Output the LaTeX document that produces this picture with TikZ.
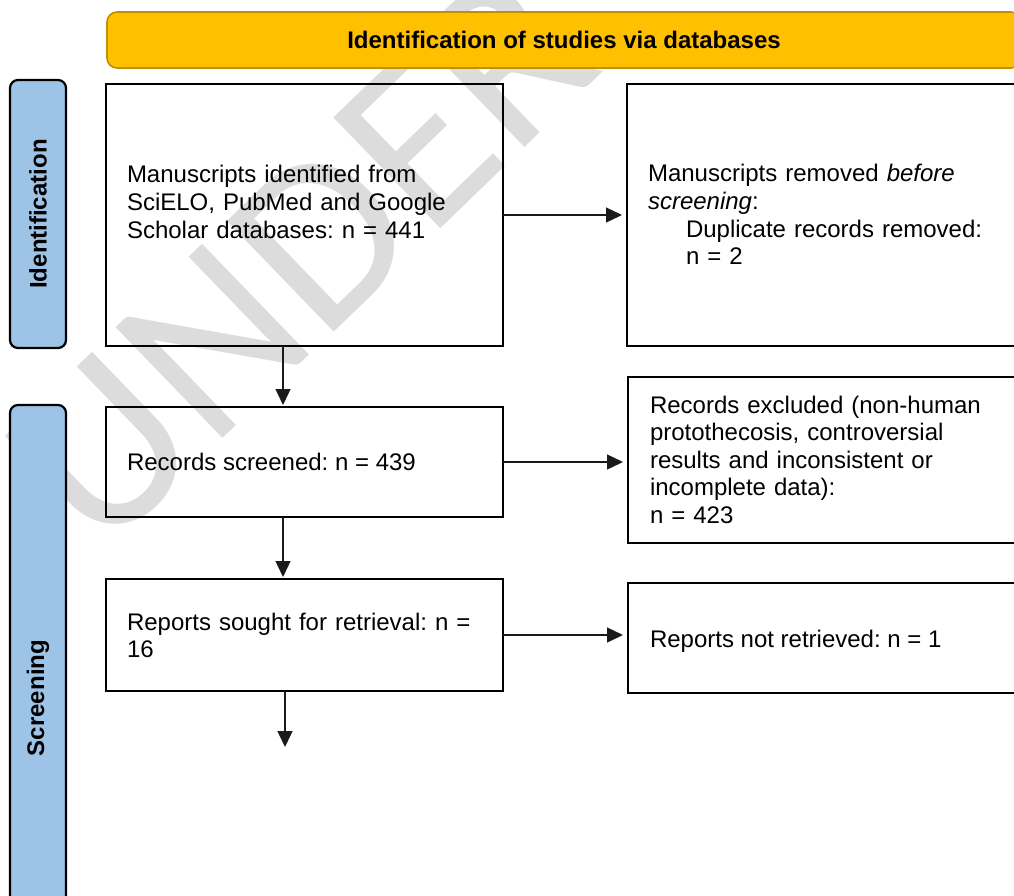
\documentclass[tikz,border=0pt]{standalone}
\usepackage{fontspec}
\setmainfont{Liberation Sans}
\newfontfamily\wmfont{Carlito}
\usetikzlibrary{arrows.meta}
\definecolor{banneryellow}{HTML}{FFC000}
\definecolor{bannerborder}{HTML}{BF9000}
\definecolor{barblue}{HTML}{9DC3E6}
\definecolor{wmgray}{HTML}{DCDCDC}
\definecolor{arrowgray}{HTML}{1A1A1A}
\frenchspacing
\begin{document}
\begin{tikzpicture}[x=1pt,y=-1pt,
  every node/.style={inner sep=0pt, outer sep=0pt},
  body/.style={font=\fontsize{24}{27.6}\selectfont},
  boxnode/.style={draw=black, line width=2.2pt, minimum width=397pt},
  txt/.style={body, align=left, text width=360pt},
  banner/.style={draw=bannerborder, line width=1.6pt, fill=banneryellow, rounded corners=10pt,
    minimum width=914pt, minimum height=56pt, font=\fontsize{24}{27.6}\selectfont\bfseries},
  phasebar/.style={draw=black, line width=2.2pt, fill=barblue, rounded corners=8pt,
    minimum height=56pt, rotate=90, font=\fontsize{24}{27.6}\selectfont\bfseries},
  arr/.style={draw=arrowgray, line width=1.3pt, -{Triangle[length=16pt,width=15pt]}},
  wm/.style={text=wmgray, font=\wmfont\fontsize{240}{240}\selectfont}
]
\useasboundingbox (0,0) rectangle (1014,895);
\clip (0,0) rectangle (1014,895);

% watermark
\node[wm, rotate=44, anchor=base west] (wmark) at (100,558) {UNDER};

% banner and phase bars
\node[banner] (ban) at (564,40) {Identification of studies via databases};
\node[phasebar, minimum width=268pt] (idbar) at (38,214) {Identification};
\node[phasebar, minimum width=586pt] (scbar) at (38,698) {Screening};

% boxes
\node[boxnode, minimum height=262pt] (b1) at (304.5,215) {};
\node[boxnode, minimum height=262pt] (b2) at (825.5,215) {};
\node[boxnode, minimum height=110pt] (b3) at (304.5,462) {};
\node[boxnode, minimum height=166pt] (b5) at (826.5,460) {};
\node[boxnode, minimum height=112pt] (b4) at (304.5,635) {};
\node[boxnode, minimum height=110pt] (b6) at (826.5,638) {};

% texts
\node[txt, anchor=north west] (t1) at (127,165.6) {Manuscripts identified from\\SciELO, PubMed and Google\\Scholar databases: n = 441};
\node[txt, anchor=north west] (t2) at (648,164.6) {Manuscripts removed \textit{before}\\\textit{screening}:\\\hspace*{38pt}Duplicate records removed:\\\hspace*{38pt}n = 2};
\node[body, anchor=base west] (t3) at (127,470) {Records screened: n = 439};
\node[txt, anchor=north west] (t5) at (650,395.6) {Records excluded (non-human\\protothecosis, controversial\\results and inconsistent or\\incomplete data):\\n = 423};
\node[txt, anchor=north west] (t4) at (127,612.6) {Reports sought for retrieval: n =\\16};
\node[body, anchor=base west] (t6) at (650,647) {Reports not retrieved: n = 1};

% connectors
\coordinate (col) at (283,0);
\coordinate (endarrow) at (285,747);
\draw[arr, shorten >=5pt] (b1.east) -- (b2.west);
\draw[arr, shorten >=5pt] (b3.east) -- (b3.east -| b5.west);
\draw[arr, shorten >=5pt] (b4.east) -- (b4.east -| b6.west);
\draw[arr, shorten >=2pt] (b1.south -| col) -- (b3.north -| col);
\draw[arr, shorten >=2pt] (b3.south -| col) -- (b4.north -| col);
\draw[arr] (b4.south -| endarrow) -- (endarrow);
\end{tikzpicture}
\end{document}
